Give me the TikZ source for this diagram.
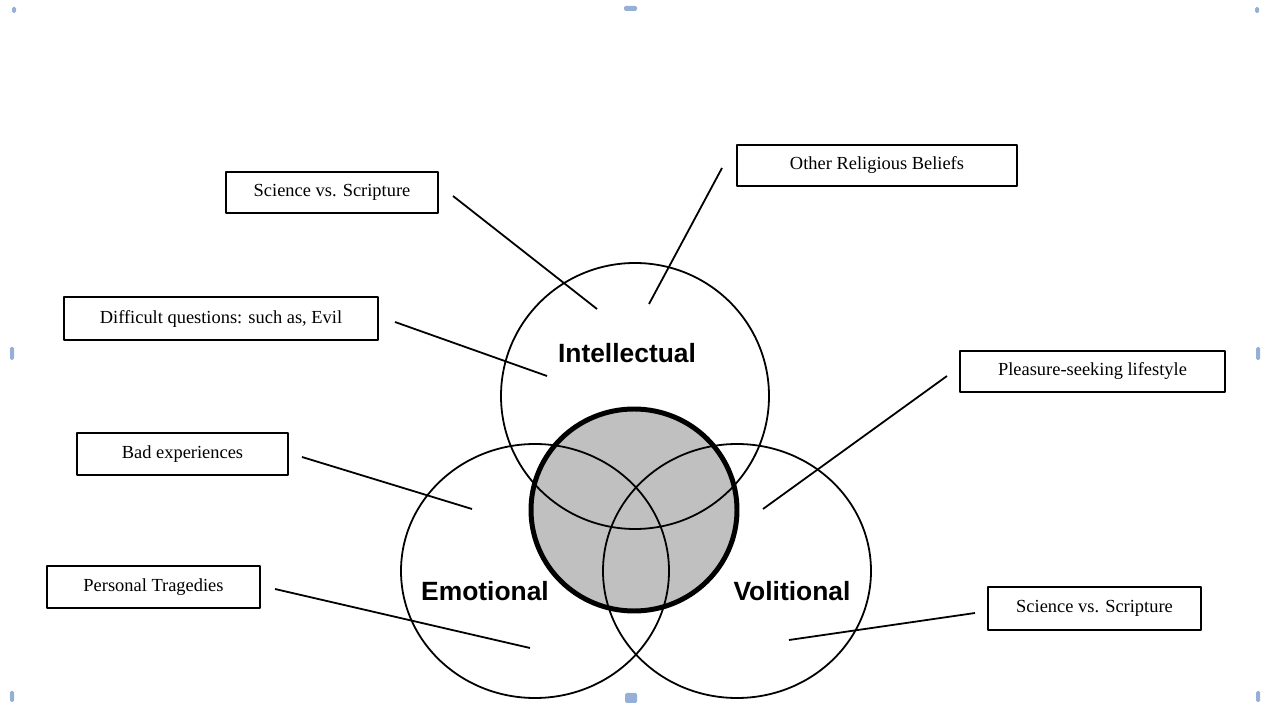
\documentclass[tikz,border=0pt]{standalone}
\usepackage{fontspec}
\setmainfont{Liberation Serif}
\newfontfamily\labelfont{Liberation Sans}
\usepackage{tikz}
\usetikzlibrary{shapes}
\definecolor{coregray}{RGB}{192,192,192}
\definecolor{handleblue}{RGB}{150,175,215}
\begin{document}
\begin{tikzpicture}[line join=bevel,
    factor/.style={draw,rectangle,line width=1.4pt,inner sep=0pt,font=\fontsize{18.5}{20}\selectfont},
    realm/.style={draw,ellipse,line width=1.8pt,inner sep=0pt},
    realmlabel/.style={font=\labelfont\bfseries\fontsize{26.5}{30}\selectfont,inner sep=0pt},
    link/.style={line width=1.8pt},
    handle/.style={fill=handleblue,rounded corners=1.5bp}]
  \useasboundingbox (0bp,0bp) rectangle (1262bp,706bp);
  \fill[coregray] (634bp,196bp) ellipse (103bp and 101bp);
  \node (intel) at (635bp,310bp) [realm,minimum width=268bp,minimum height=266bp] {};
  \node (emo) at (535bp,135bp) [realm,minimum width=268bp,minimum height=254bp] {};
  \node (vol) at (737bp,135bp) [realm,minimum width=268bp,minimum height=254bp] {};
  \draw[line width=5pt] (634bp,196bp) ellipse (103bp and 101bp);
  \node (intellabel) at (627bp,353bp) [realmlabel] {Intellectual};
  \node (emolabel) at (485bp,115bp) [realmlabel] {Emotional};
  \node (vollabel) at (792bp,115bp) [realmlabel] {Volitional};
  \node (science) at (332bp,513.5bp) [factor,minimum width=212bp,minimum height=41bp] {Science vs. Scripture};
  \node (religions) at (877bp,540.5bp) [factor,minimum width=280bp,minimum height=41bp] {Other Religious Beliefs};
  \node (evil) at (221bp,387.5bp) [factor,minimum width=314bp,minimum height=43bp] {Difficult questions: such as, Evil};
  \node (pleasure) at (1092.5bp,334.5bp) [factor,minimum width=265bp,minimum height=41bp] {Pleasure-seeking lifestyle};
  \node (badexp) at (182.5bp,252bp) [factor,minimum width=211bp,minimum height=42bp] {Bad experiences};
  \node (tragedy) at (153.5bp,119bp) [factor,minimum width=213bp,minimum height=42bp] {Personal Tragedies};
  \node (sciencetwo) at (1094.5bp,97.5bp) [factor,minimum width=213bp,minimum height=43bp] {Science vs. Scripture};
  \coordinate (science-a) at (453bp,510bp);
  \coordinate (science-b) at (597bp,397bp);
  \coordinate (religions-a) at (722bp,538bp);
  \coordinate (religions-b) at (649bp,402bp);
  \coordinate (evil-a) at (395bp,384bp);
  \coordinate (evil-b) at (547bp,330bp);
  \coordinate (pleasure-a) at (947bp,330bp);
  \coordinate (pleasure-b) at (763bp,197bp);
  \coordinate (badexp-a) at (302bp,249bp);
  \coordinate (badexp-b) at (472bp,197bp);
  \coordinate (tragedy-a) at (275bp,117bp);
  \coordinate (tragedy-b) at (530bp,58bp);
  \coordinate (sciencetwo-a) at (975bp,93bp);
  \coordinate (sciencetwo-b) at (789bp,66bp);
  \draw [link] (science-a) -- (science-b);
  \draw [link] (religions-a) -- (religions-b);
  \draw [link] (evil-a) -- (evil-b);
  \draw [link] (pleasure-a) -- (pleasure-b);
  \draw [link] (badexp-a) -- (badexp-b);
  \draw [link] (tragedy-a) -- (tragedy-b);
  \draw [link] (sciencetwo-a) -- (sciencetwo-b);
  \fill[handle] (624bp,695bp) rectangle (637bp,700bp);
  \fill[handle] (625bp,3bp) rectangle (637bp,13bp);
  \fill[handle] (10bp,346bp) rectangle (14bp,359bp);
  \fill[handle] (1256bp,346bp) rectangle (1260bp,359bp);
  \fill[handle] (10bp,4bp) rectangle (14bp,15bp);
  \fill[handle] (1256bp,4bp) rectangle (1260bp,15bp);
  \fill[handle] (12bp,693bp) rectangle (16bp,699bp);
  \fill[handle] (1255bp,693bp) rectangle (1259bp,699bp);
\end{tikzpicture}
\end{document}
